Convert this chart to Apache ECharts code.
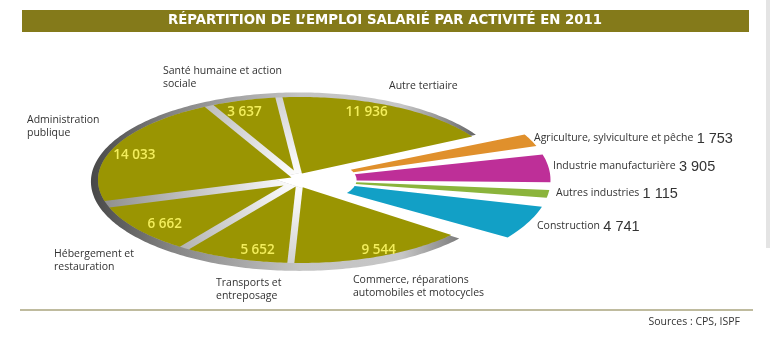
<!DOCTYPE html>
<html>
<head>
<meta charset="utf-8">
<script src="https://cdn.jsdelivr.net/npm/echarts@6/dist/echarts.min.js"></script>
<style>
  html, body { margin: 0; padding: 0; background: #ffffff; }
  #chart { width: 770px; height: 340px; }
</style>
</head>
<body>
<div id="chart"></div>
<script>
// Salaried employment by activity, 2011 (slices in clockwise order from the top)
const categories = [
  'Autre tertiaire',
  'Agriculture, sylviculture et pêche',
  'Industrie manufacturière',
  'Autres industries',
  'Construction',
  'Commerce, réparations\nautomobiles et motocycles',
  'Transports et\nentreposage',
  'Hébergement et\nrestauration',
  'Administration\npublique',
  'Santé humaine et action\nsociale'
];
const values = [11936, 1753, 3905, 1115, 4741, 9544, 5652, 6662, 14033, 3637];
// Slices pulled out of the disc (non-tertiary activities)
const detached = [false, true, true, true, true, false, false, false, false, false];

const titleText = 'RÉPARTITION DE L’EMPLOI SALARIÉ PAR ACTIVITÉ EN 2011';
const sourceText = 'Sources : CPS, ISPF';

// ---- styling / layout ----
const sliceColors = ['#9a9502', '#e0902c', '#be2f98', '#8bb43c', '#12a0c6',
                     '#9a9502', '#9a9502', '#9a9502', '#9a9502', '#9a9502'];
// value label anchors inside the disc, in disc units (x right, y up)
const valueLabelAt = [[0.33, 0.82], null, null, null, null,
                      [0.39, -0.84], [-0.21, -0.84], [-0.67, -0.53], [-0.82, 0.30], [-0.275, 0.82]];
// category label anchors (left edge, middle of first line), pixels
const nameLabelAt = [[389, 87], [534, 140], [553, 168], [556, 195], [537, 228],
                     [353, 281], [216, 284], [54, 255], [27, 121], [163, 72]];

const START_ANGLE = -6;     // degrees, clockwise from 12 o'clock
const GAP = 7;              // px between disc slices
const WHITE_GAP = 6;        // px inset of disc slices next to the pulled-out ones
const OUT_R = 1.24;         // radius of the pulled-out slices
const IN_R = 0.28;          // inner cut of the pulled-out slices
const OUT_SPAN = 0.7;       // angular share kept by the pulled-out slices

const total = values.reduce((a, b) => a + b, 0);
const bounds = [];
let acc = START_ANGLE;
values.forEach(v => { const a1 = acc; acc += v / total * 360; bounds.push([a1, acc]); });

const fmt = v => String(v).replace(/\B(?=(\d{3})+(?!\d))/g, ' ');

function ellPt(api, deg, rx, ry, cx, cy) {
  const t = deg * Math.PI / 180;
  return api.coord([(cx || 0) + rx * Math.sin(t), (cy || 0) + ry * Math.cos(t)]);
}
function norm(v) { const l = Math.hypot(v[0], v[1]) || 1; return [v[0] / l, v[1] / l]; }
function intersect(p, d, q, e) {
  const den = d[0] * e[1] - d[1] * e[0];
  if (Math.abs(den) < 1e-9) return p;
  const t = ((q[0] - p[0]) * e[1] - (q[1] - p[1]) * e[0]) / den;
  return [p[0] + t * d[0], p[1] + t * d[1]];
}
// drop the leading arc points lying outside the line through p with inward normal nrm
function clipLead(arc, p, nrm) {
  const side = P => (P[0] - p[0]) * nrm[0] + (P[1] - p[1]) * nrm[1];
  let k = 0;
  while (k < arc.length - 1 && side(arc[k]) < 0) k++;
  if (k === 0) return arc;
  const A = arc[k - 1], B = arc[k], sa = side(A), sb = side(B);
  const t = sa / (sa - sb);
  return [[A[0] + (B[0] - A[0]) * t, A[1] + (B[1] - A[1]) * t]].concat(arc.slice(k));
}
// wedge from a1 to a2 with its two straight edges pulled inward by off1 / off2 px
function wedge(api, a1, a2, rx, ry, off1, off2, cx, cy) {
  const C = api.coord([0, 0]);
  const n = Math.max(12, Math.ceil((a2 - a1) / 1));
  let arc = [];
  for (let k = 0; k <= n; k++) arc.push(ellPt(api, a1 + (a2 - a1) * k / n, rx, ry, cx, cy));
  const e1 = ellPt(api, a1, 1, 1), e2 = ellPt(api, a2, 1, 1);
  const d1 = norm([e1[0] - C[0], e1[1] - C[1]]);
  const d2 = norm([e2[0] - C[0], e2[1] - C[1]]);
  const n1 = [-d1[1], d1[0]];
  const n2 = [d2[1], -d2[0]];
  const p1 = [C[0] + n1[0] * off1, C[1] + n1[1] * off1];
  const p2 = [C[0] + n2[0] * off2, C[1] + n2[1] * off2];
  const apex = intersect(p1, d1, p2, d2);
  arc = clipLead(arc, p1, n1);
  arc = clipLead(arc.reverse(), p2, n2).reverse();
  return [apex].concat(arc);
}
function ring(api, a1, a2, rIn, rOut) {
  const n = Math.max(10, Math.ceil((a2 - a1) / 1.5));
  const pts = [];
  for (let k = 0; k <= n; k++) pts.push(ellPt(api, a1 + (a2 - a1) * k / n, rOut, rOut));
  for (let k = n; k >= 0; k--) pts.push(ellPt(api, a1 + (a2 - a1) * k / n, rIn, rIn));
  return pts;
}

const firstDet = detached.indexOf(true);
const lastDet = detached.lastIndexOf(true);
const backFrom = bounds[lastDet + 1][0];
const backTo = bounds[firstDet - 1][1] + 360;

function renderBackdrop(params, api) {
  const C = api.coord([0, 0]);
  const left = api.coord([-1.05, 0]);
  const right = api.coord([1.05, 0]);
  const rimFill = new echarts.graphic.LinearGradient(left[0], 0, right[0], 0, [
    { offset: 0, color: '#454545' },
    { offset: 0.2, color: '#858585' },
    { offset: 0.5, color: '#c4c4c4' },
    { offset: 0.74, color: '#c6c6c6' },
    { offset: 0.88, color: '#7a7a7a' },
    { offset: 1, color: '#333333' }
  ], true);
  const innerFill = new echarts.graphic.RadialGradient(C[0], C[1], 200, [
    { offset: 0, color: '#ffffff' },
    { offset: 0.12, color: '#f4f4f4' },
    { offset: 0.5, color: '#c8c8c8' },
    { offset: 1, color: '#8e8e8e' }
  ], true);
  return {
    type: 'group',
    children: [
      { type: 'polygon', shape: { points: wedge(api, backFrom, backTo, 1.03, 1.075, WHITE_GAP + 1, WHITE_GAP + 1, -0.005, -0.02) },
        style: { fill: rimFill } },
      { type: 'polygon', shape: { points: wedge(api, backFrom, backTo, 1.0, 1.0, WHITE_GAP + 1, WHITE_GAP + 1) },
        style: { fill: innerFill } }
    ]
  };
}

function renderSlice(params, api) {
  const i = params.dataIndex;
  const n = values.length;
  const [a1, a2] = bounds[i];
  const children = [];
  if (detached[i]) {
    const mid = (a1 + a2) / 2, half = (a2 - a1) * OUT_SPAN / 2;
    children.push({ type: 'polygon', shape: { points: ring(api, mid - half, mid + half, IN_R, OUT_R) },
      style: { fill: sliceColors[i] } });
  } else {
    const off1 = detached[(i - 1 + n) % n] ? WHITE_GAP : GAP / 2;
    const off2 = detached[(i + 1) % n] ? WHITE_GAP : GAP / 2;
    children.push({ type: 'polygon', shape: { points: wedge(api, a1, a2, 1, 1, off1, off2) },
      style: { fill: sliceColors[i] } });
    const at = api.coord(valueLabelAt[i]);
    children.push({ type: 'text', x: at[0], y: at[1],
      style: { text: fmt(values[i]), fill: '#f3ee5c', align: 'center', verticalAlign: 'middle',
        font: '600 13.5px "Open Sans", sans-serif' } });
  }
  return { type: 'group', children };
}

const nameLabels = categories.map((name, i) => {
  const [x, y] = nameLabelAt[i];
  if (detached[i]) {
    return { type: 'text', left: x, top: y - 9,
      style: { text: '{n|' + name + '} {v|' + fmt(values[i]) + '}', rich: {
        n: { font: '10.5px "Open Sans", sans-serif', fill: '#333333', verticalAlign: 'middle' },
        v: { font: '14.5px "Liberation Sans", Arial, sans-serif', fill: '#333333', verticalAlign: 'middle' } } } };
  }
  return { type: 'text', left: x, top: y - 7,
    style: { text: name, font: '10.5px "Open Sans", sans-serif', fill: '#333333', lineHeight: 12.5 } };
});

const chart = echarts.init(document.getElementById('chart'), null, { renderer: 'canvas' });
chart.setOption({
  animation: false,
  backgroundColor: '#ffffff',
  grid: { left: 98, right: 268, top: 97, bottom: 77 },
  xAxis: { type: 'value', min: -1, max: 1, show: false },
  yAxis: { type: 'value', min: -1, max: 1, show: false },
  graphic: [
    { type: 'rect', shape: { x: 22, y: 10, width: 727, height: 22 }, style: { fill: '#847a1a' }, z: 0 },
    { type: 'text', x: 385, y: 21, style: { text: titleText, fill: '#ffffff', align: 'center', verticalAlign: 'middle',
      font: 'bold 13.3px "DejaVu Sans", sans-serif' } },
    { type: 'rect', shape: { x: 766, y: 0, width: 4, height: 248 }, style: { fill: '#e4e4e4' } },
    { type: 'line', shape: { x1: 20, y1: 310, x2: 753, y2: 310 }, style: { stroke: '#aaa47e', lineWidth: 1.5 } },
    { type: 'text', x: 740, y: 322, style: { text: sourceText, fill: '#333333', align: 'right', verticalAlign: 'middle',
      font: '10.5px "Open Sans", sans-serif' } }
  ].concat(nameLabels),
  series: [
    { type: 'custom', z: 1, silent: true, data: [0], renderItem: renderBackdrop },
    { type: 'custom', z: 2, silent: true, data: values, renderItem: renderSlice }
  ]
});
</script>
</body>
</html>
